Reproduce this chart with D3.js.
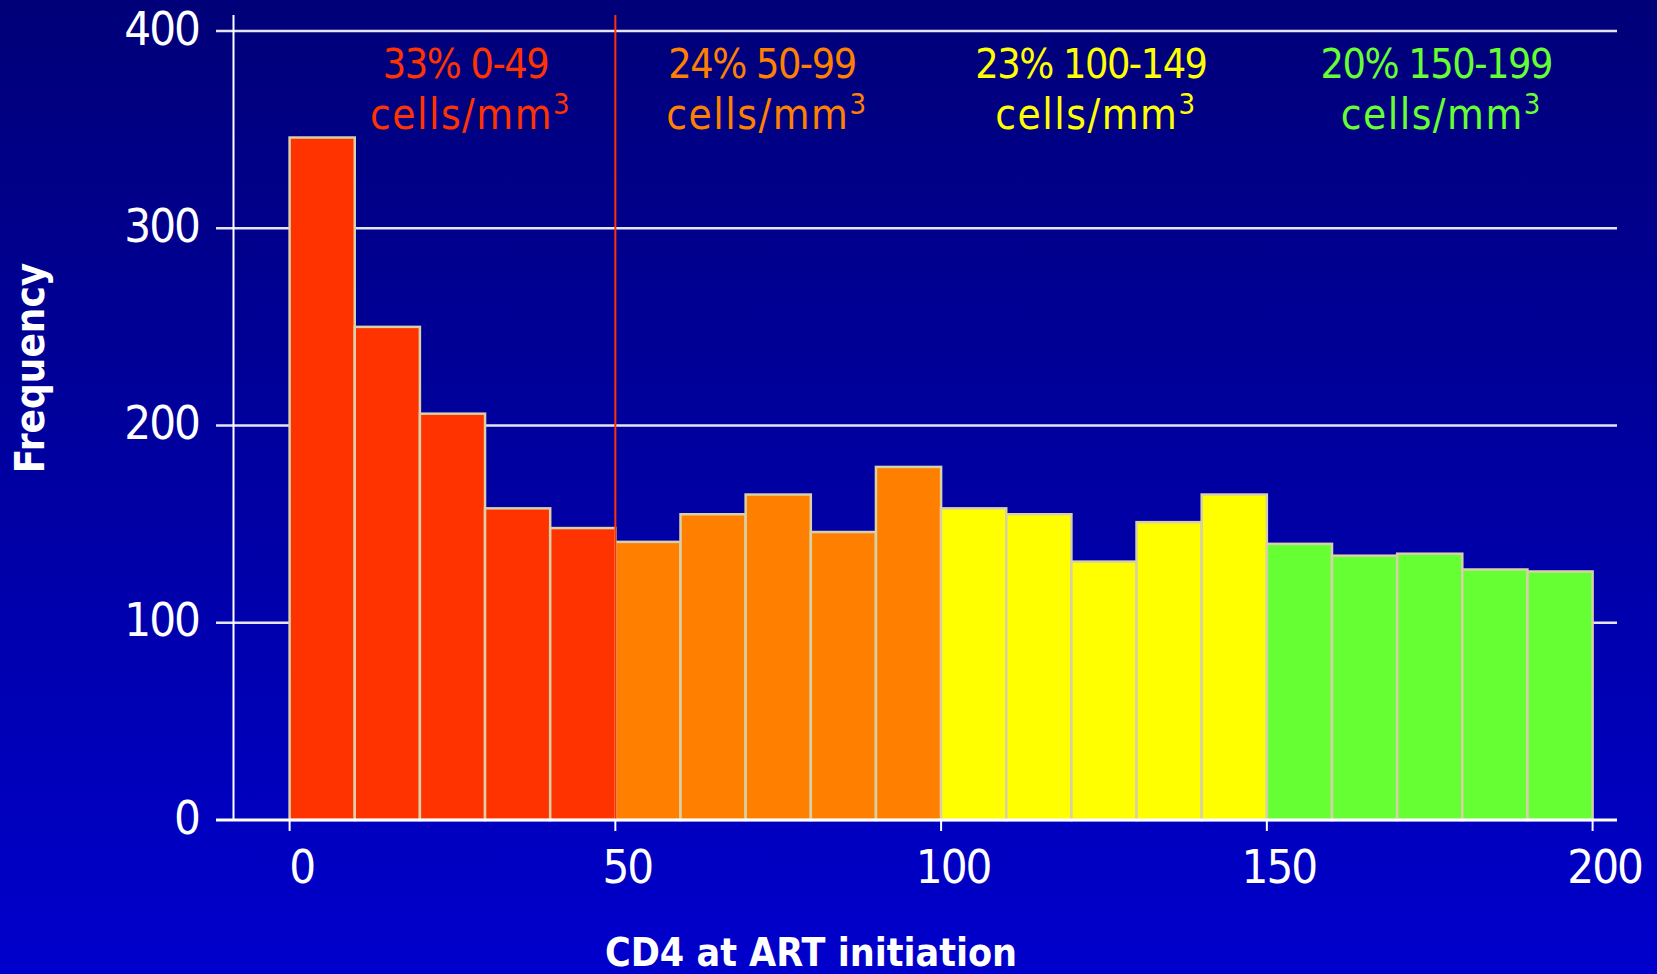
<!DOCTYPE html>
<html><head><meta charset="utf-8">
<script src="https://cdn.jsdelivr.net/npm/d3@7"></script>
<style>html,body{margin:0;padding:0;background:#0000a0;}svg{display:block;}</style>
</head><body>
<script>
// Data
const binStarts = [0,10,20,30,40,50,60,70,80,90,100,110,120,130,140,150,160,170,180,190];
const binWidth = 10;
const frequencies = [346,250,206,158,148,141,155,165,146,179,158,155,131,151,165,140,134,135,127,126];
const groupColors = ["#FF3300","#FF8000","#FFFF00","#66FF33"];
const groupLabels = ["33% 0-49","24% 50-99","23% 100-149","20% 150-199"];
const groupLabelPos = [27, 72.5, 123, 176];
const xTicks = [0,50,100,150,200];
const yTicks = [0,100,200,300,400];

const W = 1657, H = 974;
const svg = d3.select("body").append("svg").attr("width", W).attr("height", H);
const defs = svg.append("defs");
const grad = defs.append("linearGradient").attr("id","bg").attr("x1",0).attr("y1",0).attr("x2",0).attr("y2",1);
grad.append("stop").attr("offset","0%").attr("stop-color","#000078");
grad.append("stop").attr("offset","100%").attr("stop-color","#0000CC");
svg.append("rect").attr("width",W).attr("height",H).attr("fill","url(#bg)");

const x = d3.scaleLinear().domain([0,200]).range([289.6,1592.6]);
const y = d3.scaleLinear().domain([0,400]).range([820,31]);
const gridLeft = 216, gridRight = 1617, axisX = 233.5;

// gridlines (incl. left tick)
svg.append("g").selectAll("line").data(yTicks.filter(d=>d>0)).join("line")
  .attr("x1",gridLeft).attr("x2",gridRight)
  .attr("y1",d=>y(d)).attr("y2",d=>y(d))
  .attr("stroke","#E4E4F4").attr("stroke-width",2.6);

// y axis line
svg.append("line").attr("x1",axisX).attr("x2",axisX).attr("y1",15).attr("y2",y(0))
  .attr("stroke","#FFFFFF").attr("stroke-width",2);

// bars
const groupOf = v => Math.floor(v/50);
svg.append("g").selectAll("rect").data(binStarts).join("rect")
  .attr("x",(d)=>x(d)).attr("width",d=>x(d+binWidth)-x(d))
  .attr("y",(d,i)=>y(frequencies[i])).attr("height",(d,i)=>y(0)-y(frequencies[i]))
  .attr("fill",d=>groupColors[groupOf(d)])
  .attr("stroke","#D8D0A8").attr("stroke-width",2.5);

// red vertical line at 50
svg.append("line").attr("x1",x(50)).attr("x2",x(50)).attr("y1",15).attr("y2",y(0))
  .attr("stroke","#FF3300").attr("stroke-width",2);

// x axis line
svg.append("line").attr("x1",gridLeft).attr("x2",gridRight).attr("y1",y(0)).attr("y2",y(0))
  .attr("stroke","#FFFFFF").attr("stroke-width",3);

// x ticks
svg.append("g").selectAll("line").data(xTicks).join("line")
  .attr("x1",d=>x(d)).attr("x2",d=>x(d)).attr("y1",y(0)).attr("y2",y(0)+11)
  .attr("stroke","#FFFFFF").attr("stroke-width",2);

const tickFont = "'DejaVu Sans Condensed','DejaVu Sans',sans-serif";
svg.append("g").selectAll("text").data(xTicks).join("text")
  .attr("x",d=>x(d)+12).attr("y",883)
  .attr("text-anchor","middle").attr("fill","#FFFFFF")
  .attr("font-family",tickFont).attr("font-size",47).attr("letter-spacing",-2)
  .text(d=>d);

svg.append("g").selectAll("text").data(yTicks).join("text")
  .attr("x",199).attr("y",d=>y(d)+13.5)
  .attr("text-anchor","end").attr("fill","#FFFFFF")
  .attr("font-family",tickFont).attr("font-size",47).attr("letter-spacing",-2)
  .text(d=>d);

// group labels
const lab = svg.append("g").selectAll("g").data(groupLabels).join("g");
lab.append("text")
  .attr("x",(d,i)=>x(groupLabelPos[i])).attr("y",78)
  .attr("text-anchor","middle").attr("fill",(d,i)=>groupColors[i])
  .attr("font-family",tickFont).attr("font-size",41).attr("letter-spacing",-1.5)
  .text(d=>d);
const l2 = lab.append("text")
  .attr("x",(d,i)=>x(groupLabelPos[i])+5).attr("y",129)
  .attr("text-anchor","middle").attr("fill",(d,i)=>groupColors[i])
  .attr("font-family",tickFont).attr("font-size",42).attr("letter-spacing",1.5);
l2.append("tspan").text("cells/mm");
l2.append("tspan").attr("font-size",29).attr("dy",-15).text("3");

// axis titles
const titleFont = "'DejaVu Sans Condensed','DejaVu Sans',sans-serif";
svg.append("text").attr("x",811).attr("y",966).attr("text-anchor","middle")
  .attr("fill","#FFFFFF").attr("font-family",titleFont).attr("font-weight","bold")
  .attr("font-size",39).text("CD4 at ART initiation");
svg.append("text").attr("transform","translate(44,368) rotate(-90)").attr("text-anchor","middle")
  .attr("fill","#FFFFFF").attr("font-family",titleFont).attr("font-weight","bold")
  .attr("font-size",40).text("Frequency");
</script>
</body></html>
